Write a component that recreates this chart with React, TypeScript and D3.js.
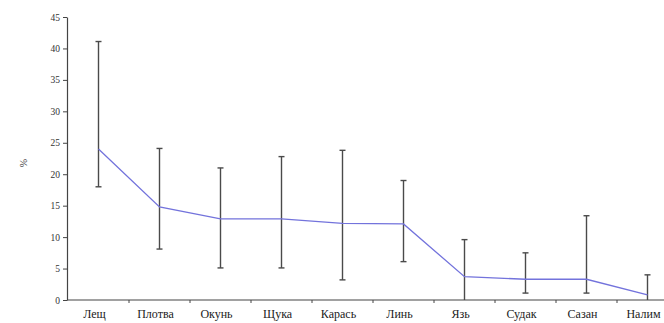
import React, { useRef, useEffect } from "react";
import * as d3 from "d3";

const species = ["Лещ", "Плотва", "Окунь", "Щука", "Карась", "Линь", "Язь", "Судак", "Сазан", "Налим"];
const meanShare = [24.0, 14.8, 12.9, 12.9, 12.2, 12.1, 3.7, 3.3, 3.3, 0.8];
const lowShare = [18.0, 8.1, 5.1, 5.1, 3.2, 6.1, 0, 1.1, 1.1, 0];
const highShare = [41.1, 24.1, 21.0, 22.8, 23.8, 19.0, 9.6, 7.5, 13.4, 4.0];
const yTicks = [0, 5, 10, 15, 20, 25, 30, 35, 40, 45];

const width = 664;
const height = 323;

function App() {
  const svgRef = useRef<SVGSVGElement>(null);

  useEffect(() => {
    const svg = d3.select(svgRef.current);
    svg.selectAll("*").remove();

    const x = d3.scaleBand().domain(species).range([68, 678]);
    const y = d3.scaleLinear().domain([0, 45]).range([300, 17]);
    const cx = (d: string) => (x(d) ?? 0) + x.bandwidth() / 2;

    const font = "'Liberation Serif', 'DejaVu Serif', serif";

    // y axis
    const yAxis = svg
      .append("g")
      .attr("transform", "translate(67,0)")
      .call(d3.axisLeft(y).tickValues(yTicks).tickSize(4).tickSizeOuter(0));
    yAxis.select(".domain").attr("stroke", "#444").attr("stroke-width", 1.2);
    yAxis.selectAll(".tick line").attr("stroke", "#444");
    yAxis
      .selectAll(".tick text")
      .attr("font-family", font)
      .attr("font-size", 9.5)
      .attr("fill", "#333")
      .attr("x", -7);

    // x axis: ticks at band boundaries
    const bounds = species.slice(1).map((d) => x(d) ?? 0);
    const xg = svg.append("g");
    xg.append("line")
      .attr("x1", 67)
      .attr("x2", width)
      .attr("y1", y(0))
      .attr("y2", y(0))
      .attr("stroke", "#444")
      .attr("stroke-width", 1.2);
    xg.selectAll(".xt")
      .data(bounds)
      .enter()
      .append("line")
      .attr("x1", (d) => d)
      .attr("x2", (d) => d)
      .attr("y1", y(0))
      .attr("y2", y(0) + 3)
      .attr("stroke", "#444");
    xg.selectAll(".xl")
      .data(species)
      .enter()
      .append("text")
      .attr("x", (d) => cx(d) - 4)
      .attr("y", 318)
      .attr("text-anchor", "middle")
      .attr("font-family", font)
      .attr("font-size", 12)
      .attr("fill", "#222")
      .text((d) => d);

    // y label
    svg
      .append("text")
      .attr("transform", "translate(27,163) rotate(-90)")
      .attr("text-anchor", "middle")
      .attr("font-family", font)
      .attr("font-size", 10)
      .attr("fill", "#333")
      .text("%");

    // error bars
    const bars = svg
      .selectAll(".eb")
      .data(species)
      .enter()
      .append("g")
      .attr("stroke", "#4a4a4a")
      .attr("stroke-width", 1.4);
    bars
      .append("line")
      .attr("x1", (d) => cx(d))
      .attr("x2", (d) => cx(d))
      .attr("y1", (d, i) => y(lowShare[i]))
      .attr("y2", (d, i) => y(highShare[i]));
    bars
      .append("line")
      .attr("x1", (d) => cx(d) - 3)
      .attr("x2", (d) => cx(d) + 3)
      .attr("y1", (d, i) => y(highShare[i]))
      .attr("y2", (d, i) => y(highShare[i]));
    bars
      .filter((d, i) => lowShare[i] > 0)
      .append("line")
      .attr("x1", (d) => cx(d) - 3)
      .attr("x2", (d) => cx(d) + 3)
      .attr("y1", (d) => y(lowShare[species.indexOf(d)]))
      .attr("y2", (d) => y(lowShare[species.indexOf(d)]));

    // mean line
    const line = d3
      .line<number>()
      .x((d, i) => cx(species[i]))
      .y((d) => y(d));
    svg
      .append("path")
      .datum(meanShare)
      .attr("d", line)
      .attr("fill", "none")
      .attr("stroke", "#7373dc")
      .attr("stroke-width", 1.3);
  }, []);

  return (
    <svg
      ref={svgRef}
      width={width}
      height={height}
      style={{ position: "absolute", left: 0, top: 0, background: "#fff" }}
    />
  );
}

export default App;
